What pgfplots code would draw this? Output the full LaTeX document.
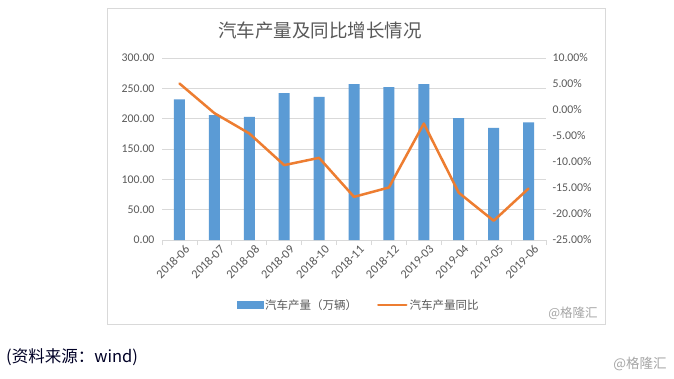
\documentclass[border=0pt]{standalone}
\usepackage{pgfplots}
\pgfplotsset{compat=1.18}
\usepackage{fontspec}
\setmainfont{Carlito}
\newfontfamily\cjk{Noto Sans CJK SC}
\definecolor{barc}{HTML}{5B9BD5}
\definecolor{linec}{HTML}{ED7D31}
\definecolor{txtc}{HTML}{595959}
\definecolor{gridc}{HTML}{D9D9D9}
\begin{document}
\begin{tikzpicture}
\path[use as bounding box] (0pt,0pt) rectangle (674pt,-378pt);
\fill[white] (0pt,0pt) rectangle (674pt,-378pt);
\draw[gridc, line width=0.8pt] (107pt,-8pt) rectangle (605pt,-324pt);
\node[text=txtc, font=\cjk\fontsize{18.5}{19}\selectfont] at (320pt,-30pt) {汽车产量及同比增长情况};
\begin{axis}[
  at={(162pt,-240pt)}, anchor=south west,
  scale only axis, width=384pt, height=182pt,
  xmin=-0.5, xmax=10.5, ymin=0, ymax=300,
  ytick={0,50,...,300},
  xtick={0,...,10},
  xticklabels={2018-06,2018-07,2018-08,2018-09,2018-10,2018-11,2018-12,2019-03,2019-04,2019-05,2019-06},
  minor xtick={-0.5,0.5,...,10.5},
  major tick length=0pt, minor tick length=5pt, tick align=outside,
  minor tick style={gridc, line width=0.8pt},
  axis x line*=bottom, axis y line*=left,
  x axis line style={gridc, line width=0.8pt, -},
  y axis line style={draw=none},
  ymajorgrids, grid style={gridc, line width=0.8pt},
  /pgf/number format/assume math mode=true,
  yticklabel={\pgfmathprintnumber[fixed,fixed zerofill,precision=2]{\tick}},
  yticklabel style={font=\fontsize{11.8}{12}\selectfont, text=txtc, xshift=-4pt},
  xticklabel style={font=\fontsize{12.3}{13}\selectfont, text=txtc, rotate=45, anchor=north east, xshift=4pt, yshift=-3pt},
  clip=false,
]
\addplot[ybar, bar width=11pt, bar shift=0pt, fill=barc, draw=none] coordinates {
(0,232) (1,206) (2,203) (3,242) (4,236) (5,257) (6,252) (7,257) (8,201) (9,185) (10,194)};
\end{axis}
\begin{axis}[
  at={(162pt,-240pt)}, anchor=south west,
  scale only axis, width=384pt, height=182pt,
  xmin=-0.5, xmax=10.5, ymin=-25, ymax=10,
  ytick={-25,-20,...,10},
  axis x line=none, axis y line*=right,
  y axis line style={draw=none},
  major tick length=0pt,
  /pgf/number format/assume math mode=true,
  yticklabel={\pgfmathprintnumber[fixed,fixed zerofill,precision=2]{\tick}\%},
  yticklabel style={font=\fontsize{11.8}{12}\selectfont, text=txtc, xshift=3pt},
  legend style={at={(0.512,-0.357)}, anchor=center, draw=none, fill=none,
    legend columns=2, font=\cjk\fontsize{11.5}{12}\selectfont, text=txtc,
    /tikz/every even column/.append style={column sep=18pt},
    inner sep=0pt},
  legend cell align=left,
  clip=false,
]
\addlegendimage{legend image code/.code={\fill[barc] (0pt,-3.5pt) rectangle (26pt,3.5pt);}}
\addlegendentry{汽车产量（万辆）}
\addplot[linec, line width=2.5pt, line join=round, line cap=round,
  legend image code/.code={\draw[linec, line width=2.5pt] (0pt,0pt) -- (28pt,0pt);}] coordinates {
(0,5.1) (1,-0.6) (2,-4.5) (3,-10.6) (4,-9.2) (5,-16.7) (6,-14.9) (7,-2.6) (8,-15.9) (9,-21.3) (10,-15.1)};
\addlegendentry{汽车产量同比}
\end{axis}
\node[text=gray!70, font=\cjk\fontsize{12.5}{13}\selectfont] at (573pt,-313pt) {@格隆汇};
\node[text=gray!70, font=\cjk\fontsize{13.5}{14}\selectfont] at (640pt,-364pt) {@格隆汇};
\node[anchor=west, text=black!85!blue, font=\cjk\fontsize{16.5}{17}\selectfont, inner sep=0pt] at (6pt,-357pt) {(资料来源：wind)};
\end{tikzpicture}
\end{document}
